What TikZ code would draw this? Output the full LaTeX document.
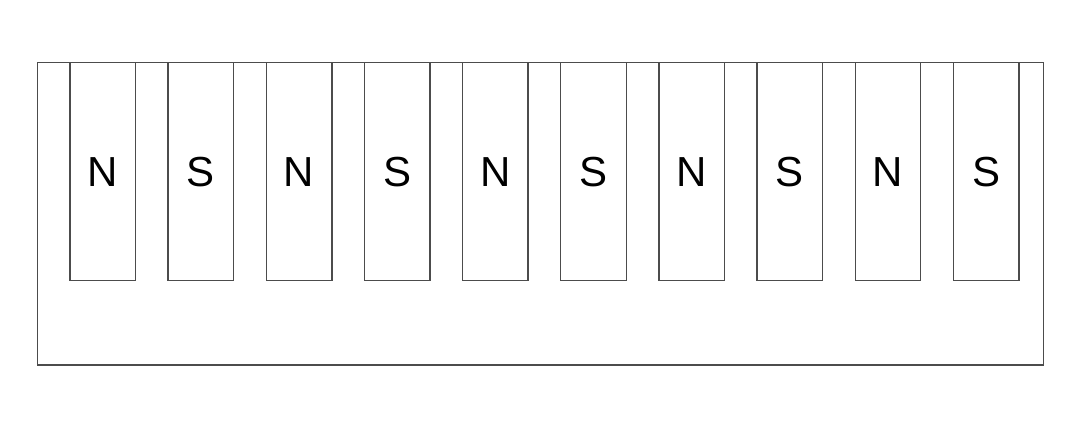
\documentclass[tikz,border=0pt]{standalone}
\usepackage{fontspec}
\setmainfont{Liberation Sans}
\begin{document}
\begin{tikzpicture}[x=1pt,y=-1pt,
  line/.style={draw=black!70,line width=1.4pt},
  magnet/.style={line,rectangle,minimum width=65.5pt,minimum height=218pt,inner sep=0pt,
    font=\fontsize{42}{42}\selectfont},
  lbl/.style={font=\fontsize{42}{42}\selectfont,inner sep=0pt}]
\useasboundingbox (0,0) rectangle (1080,430);
\node[line,rectangle,minimum width=1006pt,minimum height=302.5pt,inner sep=0pt] (frame) at (540.3,213.8) {};
\foreach \i/\p in {0/N,1/S,2/N,3/S,4/N,5/S,6/N,7/S,8/N,9/S}{
  \pgfmathsetmacro{\cx}{102.75+98.15*\i}
  \node[magnet] (m\i) at (\cx,171.7) {};
  \node[lbl] (t\i) at (\cx,172) {\p};
}
\end{tikzpicture}
\end{document}
